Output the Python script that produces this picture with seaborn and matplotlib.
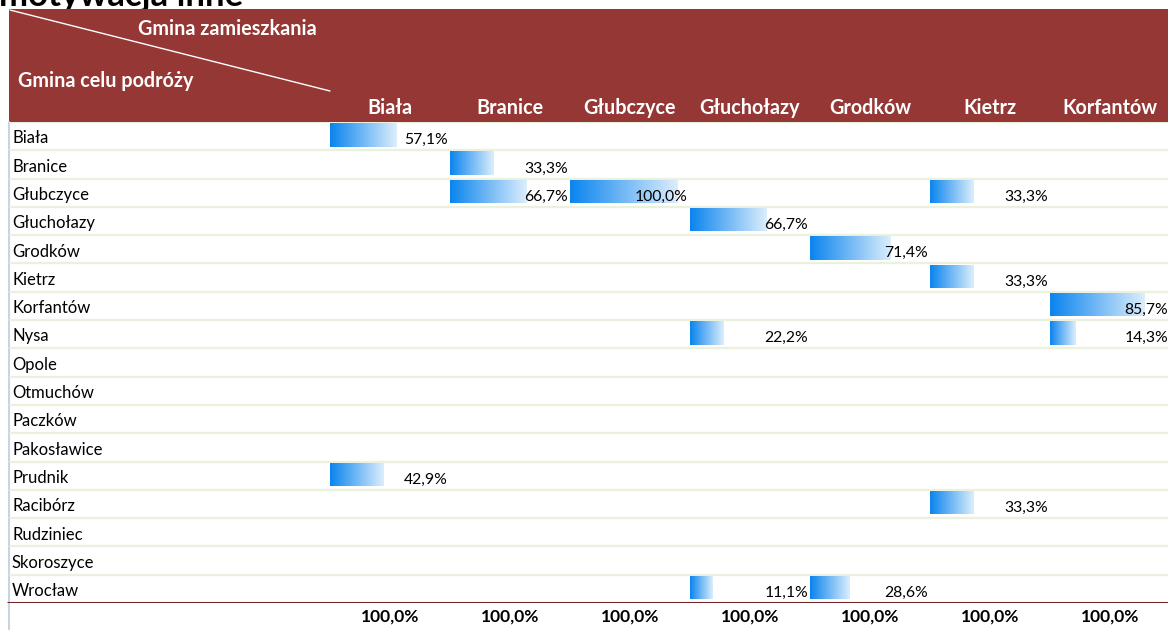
import numpy as np
import pandas as pd
import matplotlib
matplotlib.use("Agg")
import matplotlib.pyplot as plt
import seaborn as sns
from matplotlib.colors import LinearSegmentedColormap
from matplotlib.patches import Rectangle
from matplotlib.lines import Line2D

# ---------------- data ----------------
title = "motywacja inne"
corner_top = "Gmina zamieszkania"
corner_left = "Gmina celu podróży"

destinations = ["Biała", "Branice", "Głubczyce", "Głuchołazy", "Grodków", "Kietrz",
                "Korfantów", "Nysa", "Opole", "Otmuchów", "Paczków", "Pakosławice",
                "Prudnik", "Racibórz", "Rudziniec", "Skoroszyce", "Wrocław"]
origins = ["Biała", "Branice", "Głubczyce", "Głuchołazy", "Grodków", "Kietrz", "Korfantów"]

biala_dest = ["Biała", "Prudnik"]
biala_vals = [57.1, 42.9]
branice_dest = ["Branice", "Głubczyce"]
branice_vals = [33.3, 66.7]
glubczyce_dest = ["Głubczyce"]
glubczyce_vals = [100.0]
glucholazy_dest = ["Głuchołazy", "Nysa", "Wrocław"]
glucholazy_vals = [66.7, 22.2, 11.1]
grodkow_dest = ["Grodków", "Wrocław"]
grodkow_vals = [71.4, 28.6]
kietrz_dest = ["Głubczyce", "Kietrz", "Racibórz"]
kietrz_vals = [33.3, 33.3, 33.3]
korfantow_dest = ["Korfantów", "Nysa"]
korfantow_vals = [85.7, 14.3]

totals = [100.0, 100.0, 100.0, 100.0, 100.0, 100.0, 100.0]

columns = [(biala_dest, biala_vals), (branice_dest, branice_vals),
           (glubczyce_dest, glubczyce_vals), (glucholazy_dest, glucholazy_vals),
           (grodkow_dest, grodkow_vals), (kietrz_dest, kietrz_vals),
           (korfantow_dest, korfantow_vals)]

# ---------------- style ----------------
sns.set_theme(style="white")
FONT = ["Lato", "DejaVu Sans"]
plt.rcParams["font.family"] = FONT

HEADER = "#953735"
SEP = "#EAF1DD"
BOTTOM = "#6E2326"
cmap = LinearSegmentedColormap.from_list("bar", ["#0A84EE", "#DCEEFC"])

def pl(v):
    return f"{v:.1f}".replace(".", ",") + "%"

W, H = 1168, 630
fig = plt.figure(figsize=(W / 100, H / 100), dpi=100)

# background / decoration axes in pixel space
bg = fig.add_axes([0, 0, 1, 1])
bg.set_xlim(0, W)
bg.set_ylim(H, 0)
bg.axis("off")

bg.text(-1, 6, title, fontsize=25, fontweight="bold", ha="left", va="baseline",
        color="black", zorder=1)
bg.add_patch(Rectangle((9, 9), W - 9, 113, facecolor=HEADER, edgecolor="none", zorder=2))
bg.add_line(Line2D([10, 330], [10, 91], color="white", lw=1.0, zorder=3))
bg.text(138, 29, corner_top, fontsize=14.2, fontweight="bold", color="white",
        ha="left", va="center", zorder=4)
bg.text(18, 81, corner_left, fontsize=14.2, fontweight="bold", color="white",
        ha="left", va="center", zorder=4)
bg.add_line(Line2D([9, 9], [122, H], color="#C9D3E3", lw=1.5, zorder=3))

# row area
top_px, bot_px = 122, 603
n = len(destinations)
rect_y = (H - bot_px) / H
rect_h = (bot_px - top_px) / H

tab = fig.add_axes([0, rect_y, 1, rect_h])
tab.set_xlim(0, W)
tab.set_ylim(n - 0.5, -0.5)
tab.axis("off")
tab.patch.set_alpha(0)
for i, name in enumerate(destinations):
    tab.text(12, i + 0.08, name, fontsize=12, ha="left", va="center", color="black")
    tab.axhline(i - 0.5, xmin=10 / W, xmax=1, color=SEP, lw=1.6, zorder=1)
tab.axhline(n - 0.5, xmin=8 / W, xmax=1, color=BOTTOM, lw=2.2, zorder=5)

grad = np.linspace(0, 1, 256).reshape(1, -1)

for k, (origin, (dests, vals)) in enumerate(zip(origins, columns)):
    ax = fig.add_axes([(330 + 120 * k) / W, rect_y, 120 / W, rect_h])
    ax.patch.set_alpha(0)
    df = pd.DataFrame({"dest": dests, "val": vals})
    df["length"] = 0.1 + 0.8 * df["val"] / 100.0
    sns.barplot(data=df, x="length", y="dest", order=destinations, orient="h",
                color="#0A84EE", saturation=1, width=0.83, ax=ax, errorbar=None)
    for p in list(ax.patches):
        x0, y0, w, h = p.get_x(), p.get_y(), p.get_width(), p.get_height()
        y0 -= 0.045
        p.set_y(y0)
        p.set_facecolor("none")
        p.set_edgecolor("none")
        im = ax.imshow(grad, cmap=cmap, extent=[x0, x0 + w, y0 + h, y0],
                       aspect="auto", interpolation="bilinear", zorder=2)
        im.set_clip_path(p)
    for d, v in zip(dests, vals):
        ax.text(0.983, destinations.index(d) + 0.14, pl(v), fontsize=11.3,
                ha="right", va="center", color="black", zorder=4, clip_on=False)
    ax.text(0.5, -1.0, origin, fontsize=14.2, fontweight="bold", color="white",
            ha="center", va="center", zorder=5, clip_on=False)
    ax.text(0.5, n - 0.02, pl(totals[k]), fontsize=12.5, fontweight="bold",
            color="black", ha="center", va="center", clip_on=False)
    ax.set_xlim(0, 1)
    ax.set_ylim(n - 0.5, -0.5)
    ax.axis("off")

fig.savefig("out.png", dpi=100)
